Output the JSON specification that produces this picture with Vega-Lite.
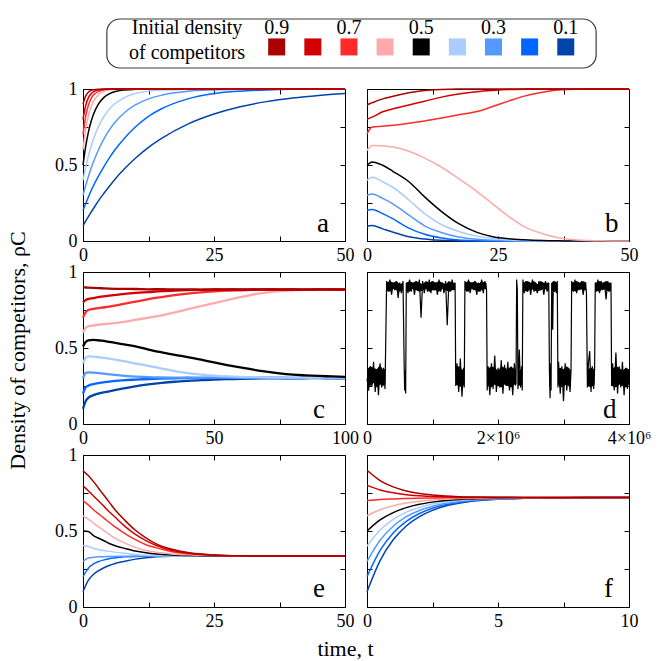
{
"$schema": "https://vega.github.io/schema/vega-lite/v6.json",
"background": "white",
"padding": {"left": 5, "top": 18, "right": 0, "bottom": 0},
"bounds": "flush",
"spacing": 21,
"config": {
  "font": "Liberation Serif",
  "view": {"stroke": "black", "strokeWidth": 1},
  "axis": {"domain": false, "grid": false, "tickSize": -5, "tickColor": "black", "tickWidth": 1, "labelFont": "Liberation Serif", "labelFontSize": 18, "labelColor": "black", "labelPadding": 10, "labelFlush": false, "labelOverlap": false, "titleFont": "Liberation Serif", "titleFontSize": 22, "titleFontWeight": "normal", "titleColor": "black"}
},
"datasets": {
  "L": [
    {"k":"d9","v":0.9,"lab":"0.9"},{"k":"d8","v":0.8,"lab":""},{"k":"d7","v":0.7,"lab":"0.7"},
    {"k":"d6","v":0.6,"lab":""},{"k":"d5","v":0.5,"lab":"0.5"},{"k":"d4","v":0.4,"lab":""},
    {"k":"d3","v":0.3,"lab":"0.3"},{"k":"d2","v":0.2,"lab":""},{"k":"d1","v":0.1,"lab":"0.1"}
  ],
  "A": [
    {"t":0,"d1":0.1,"d2":0.2,"d3":0.3,"d4":0.4,"d5":0.5,"d6":0.6,"d7":0.7,"d8":0.8,"d9":0.9},
    {"t":0.5,"d1":0.13,"d2":0.245,"d3":0.364,"d4":0.483,"d5":0.62,"d6":0.732,"d7":0.818,"d8":0.89,"d9":0.953},
    {"t":1,"d1":0.159,"d2":0.287,"d3":0.421,"d4":0.555,"d5":0.711,"d6":0.82,"d7":0.89,"d8":0.94,"d9":0.978},
    {"t":1.5,"d1":0.187,"d2":0.327,"d3":0.474,"d4":0.617,"d5":0.781,"d6":0.88,"d7":0.933,"d8":0.967,"d9":0.99},
    {"t":2,"d1":0.214,"d2":0.364,"d3":0.521,"d4":0.671,"d5":0.834,"d6":0.919,"d7":0.96,"d8":0.982,"d9":0.995},
    {"t":3,"d1":0.267,"d2":0.43,"d3":0.604,"d4":0.756,"d5":0.904,"d6":0.964,"d7":0.985,"d8":0.995,"d9":0.999},
    {"t":4,"d1":0.314,"d2":0.49,"d3":0.672,"d4":0.819,"d5":0.945,"d6":0.984,"d7":0.995,"d8":0.998,"d9":1},
    {"t":5,"d1":0.359,"d2":0.545,"d3":0.729,"d4":0.866,"d5":0.968,"d6":0.993,"d7":0.998,"d8":1,"d9":1},
    {"t":6,"d1":0.402,"d2":0.595,"d3":0.776,"d4":0.901,"d5":0.982,"d6":0.997,"d7":0.999,"d8":1,"d9":1},
    {"t":8,"d1":0.478,"d2":0.68,"d3":0.847,"d4":0.945,"d5":0.994,"d6":0.999,"d7":1,"d8":1,"d9":1},
    {"t":10,"d1":0.544,"d2":0.75,"d3":0.895,"d4":0.97,"d5":0.998,"d6":1,"d7":1,"d8":1,"d9":1},
    {"t":12.5,"d1":0.616,"d2":0.82,"d3":0.935,"d4":0.986,"d5":1,"d6":1,"d7":1,"d8":1,"d9":1},
    {"t":15,"d1":0.675,"d2":0.87,"d3":0.959,"d4":0.993,"d5":1,"d6":1,"d7":1,"d8":1,"d9":1},
    {"t":20,"d1":0.769,"d2":0.935,"d3":0.985,"d4":0.998,"d5":1,"d6":1,"d7":1,"d8":1,"d9":1},
    {"t":25,"d1":0.835,"d2":0.97,"d3":0.994,"d4":1,"d5":1,"d6":1,"d7":1,"d8":1,"d9":1},
    {"t":30,"d1":0.883,"d2":0.986,"d3":0.998,"d4":1,"d5":1,"d6":1,"d7":1,"d8":1,"d9":1},
    {"t":35,"d1":0.917,"d2":0.994,"d3":1,"d4":1,"d5":1,"d6":1,"d7":1,"d8":1,"d9":1},
    {"t":40,"d1":0.941,"d2":0.998,"d3":1,"d4":1,"d5":1,"d6":1,"d7":1,"d8":1,"d9":1},
    {"t":45,"d1":0.958,"d2":0.999,"d3":1,"d4":1,"d5":1,"d6":1,"d7":1,"d8":1,"d9":1},
    {"t":50,"d1":0.97,"d2":1,"d3":1,"d4":1,"d5":1,"d6":1,"d7":1,"d8":1,"d9":1}
  ],
  "B": [
    {"t":0,"d1":0.098,"d2":0.2,"d3":0.3,"d4":0.4,"d5":0.497,"d6":0.595,"d7":0.705,"d8":0.8,"d9":0.895},
    {"t":0.5,"d1":0.101,"d2":0.205,"d3":0.306,"d4":0.413,"d5":0.513,"d6":0.618,"d7":0.735,"d8":0.808,"d9":0.903},
    {"t":1,"d1":0.102,"d2":0.208,"d3":0.31,"d4":0.42,"d5":0.52,"d6":0.628,"d7":0.75,"d8":0.815,"d9":0.91},
    {"t":3,"d1":0.08,"d2":0.18,"d3":0.28,"d4":0.39,"d5":0.498,"d6":0.627,"d7":0.755,"d8":0.85,"d9":0.935},
    {"t":5,"d1":0.058,"d2":0.145,"d3":0.243,"d4":0.352,"d5":0.457,"d6":0.618,"d7":0.762,"d8":0.87,"d9":0.952},
    {"t":8,"d1":0.028,"d2":0.085,"d3":0.17,"d4":0.27,"d5":0.39,"d6":0.59,"d7":0.775,"d8":0.895,"d9":0.975},
    {"t":11,"d1":0.013,"d2":0.044,"d3":0.1,"d4":0.18,"d5":0.29,"d6":0.545,"d7":0.79,"d8":0.92,"d9":0.99},
    {"t":14,"d1":0.005,"d2":0.021,"d3":0.058,"d4":0.112,"d5":0.2,"d6":0.49,"d7":0.808,"d8":0.945,"d9":0.997},
    {"t":17.5,"d1":0.001,"d2":0.007,"d3":0.026,"d4":0.063,"d5":0.114,"d6":0.41,"d7":0.83,"d8":0.967,"d9":1},
    {"t":21,"d1":0,"d2":0.002,"d3":0.011,"d4":0.032,"d5":0.057,"d6":0.325,"d7":0.852,"d8":0.982,"d9":1},
    {"t":24,"d1":0,"d2":0,"d3":0.005,"d4":0.016,"d5":0.028,"d6":0.243,"d7":0.885,"d8":0.99,"d9":1},
    {"t":27,"d1":0,"d2":0,"d3":0.002,"d4":0.007,"d5":0.015,"d6":0.162,"d7":0.92,"d8":0.996,"d9":1},
    {"t":30,"d1":0,"d2":0,"d3":0,"d4":0.003,"d5":0.008,"d6":0.095,"d7":0.953,"d8":0.999,"d9":1},
    {"t":33.5,"d1":0,"d2":0,"d3":0,"d4":0.001,"d5":0.003,"d6":0.048,"d7":0.978,"d8":1,"d9":1},
    {"t":36.5,"d1":0,"d2":0,"d3":0,"d4":0,"d5":0.001,"d6":0.022,"d7":0.993,"d8":1,"d9":1},
    {"t":40,"d1":0,"d2":0,"d3":0,"d4":0,"d5":0,"d6":0.007,"d7":0.999,"d8":1,"d9":1},
    {"t":45,"d1":0,"d2":0,"d3":0,"d4":0,"d5":0,"d6":0.001,"d7":1,"d8":1,"d9":1},
    {"t":50,"d1":0,"d2":0,"d3":0,"d4":0,"d5":0,"d6":0,"d7":1,"d8":1,"d9":1}
  ],
  "C": [
    {"t":0,"d1":0.1,"d2":0.2,"d3":0.3,"d4":0.4,"d5":0.51,"d6":0.6,"d7":0.7,"d8":0.8,"d9":0.9},
    {"t":1,"d1":0.15,"d2":0.24,"d3":0.335,"d4":0.435,"d5":0.54,"d6":0.632,"d7":0.735,"d8":0.815,"d9":0.898},
    {"t":2,"d1":0.172,"d2":0.252,"d3":0.34,"d4":0.445,"d5":0.55,"d6":0.642,"d7":0.75,"d8":0.822,"d9":0.897},
    {"t":4,"d1":0.19,"d2":0.262,"d3":0.338,"d4":0.443,"d5":0.553,"d6":0.648,"d7":0.757,"d8":0.828,"d9":0.895},
    {"t":7,"d1":0.205,"d2":0.272,"d3":0.333,"d4":0.437,"d5":0.548,"d6":0.655,"d7":0.765,"d8":0.838,"d9":0.893},
    {"t":10,"d1":0.215,"d2":0.279,"d3":0.327,"d4":0.43,"d5":0.54,"d6":0.66,"d7":0.772,"d8":0.845,"d9":0.891},
    {"t":15,"d1":0.232,"d2":0.287,"d3":0.318,"d4":0.415,"d5":0.525,"d6":0.67,"d7":0.788,"d8":0.855,"d9":0.889},
    {"t":20,"d1":0.248,"d2":0.292,"d3":0.312,"d4":0.398,"d5":0.51,"d6":0.685,"d7":0.805,"d8":0.862,"d9":0.888},
    {"t":25,"d1":0.26,"d2":0.296,"d3":0.308,"d4":0.382,"d5":0.49,"d6":0.7,"d7":0.822,"d8":0.868,"d9":0.886},
    {"t":30,"d1":0.27,"d2":0.299,"d3":0.306,"d4":0.365,"d5":0.472,"d6":0.715,"d7":0.835,"d8":0.874,"d9":0.887},
    {"t":35,"d1":0.278,"d2":0.301,"d3":0.305,"d4":0.348,"d5":0.455,"d6":0.735,"d7":0.848,"d8":0.878,"d9":0.885},
    {"t":40,"d1":0.284,"d2":0.302,"d3":0.306,"d4":0.335,"d5":0.44,"d6":0.755,"d7":0.858,"d8":0.881,"d9":0.886},
    {"t":45,"d1":0.289,"d2":0.303,"d3":0.304,"d4":0.325,"d5":0.423,"d6":0.775,"d7":0.866,"d8":0.883,"d9":0.884},
    {"t":50,"d1":0.292,"d2":0.302,"d3":0.305,"d4":0.318,"d5":0.405,"d6":0.795,"d7":0.872,"d8":0.885,"d9":0.885},
    {"t":55,"d1":0.295,"d2":0.304,"d3":0.306,"d4":0.313,"d5":0.388,"d6":0.815,"d7":0.877,"d8":0.884,"d9":0.886},
    {"t":60,"d1":0.297,"d2":0.303,"d3":0.304,"d4":0.31,"d5":0.372,"d6":0.835,"d7":0.88,"d8":0.886,"d9":0.884},
    {"t":65,"d1":0.299,"d2":0.302,"d3":0.305,"d4":0.308,"d5":0.357,"d6":0.852,"d7":0.883,"d8":0.885,"d9":0.885},
    {"t":70,"d1":0.3,"d2":0.304,"d3":0.306,"d4":0.306,"d5":0.344,"d6":0.865,"d7":0.885,"d8":0.884,"d9":0.886},
    {"t":75,"d1":0.301,"d2":0.303,"d3":0.305,"d4":0.305,"d5":0.333,"d6":0.874,"d7":0.884,"d8":0.886,"d9":0.884},
    {"t":80,"d1":0.3,"d2":0.302,"d3":0.304,"d4":0.306,"d5":0.325,"d6":0.88,"d7":0.886,"d8":0.885,"d9":0.885},
    {"t":85,"d1":0.301,"d2":0.303,"d3":0.305,"d4":0.304,"d5":0.32,"d6":0.883,"d7":0.885,"d8":0.884,"d9":0.884},
    {"t":90,"d1":0.302,"d2":0.304,"d3":0.306,"d4":0.305,"d5":0.316,"d6":0.885,"d7":0.884,"d8":0.885,"d9":0.886},
    {"t":95,"d1":0.3,"d2":0.303,"d3":0.305,"d4":0.306,"d5":0.313,"d6":0.884,"d7":0.885,"d8":0.886,"d9":0.885},
    {"t":100,"d1":0.301,"d2":0.302,"d3":0.304,"d4":0.305,"d5":0.31,"d6":0.885,"d7":0.886,"d8":0.885,"d9":0.884}
  ],
  "E": [
    {"t":0,"d1":0.1,"d2":0.2,"d3":0.3,"d4":0.405,"d5":0.5,"d6":0.6,"d7":0.7,"d8":0.797,"d9":0.896},
    {"t":1,"d1":0.175,"d2":0.254,"d3":0.322,"d4":0.398,"d5":0.497,"d6":0.578,"d7":0.672,"d8":0.765,"d9":0.865},
    {"t":2,"d1":0.215,"d2":0.283,"d3":0.327,"d4":0.385,"d5":0.47,"d6":0.552,"d7":0.64,"d8":0.73,"d9":0.825},
    {"t":3,"d1":0.24,"d2":0.299,"d3":0.33,"d4":0.377,"d5":0.452,"d6":0.527,"d7":0.612,"d8":0.697,"d9":0.78},
    {"t":4,"d1":0.258,"d2":0.31,"d3":0.331,"d4":0.371,"d5":0.436,"d6":0.503,"d7":0.585,"d8":0.662,"d9":0.735},
    {"t":5,"d1":0.273,"d2":0.318,"d3":0.332,"d4":0.366,"d5":0.418,"d6":0.478,"d7":0.557,"d8":0.627,"d9":0.69},
    {"t":6,"d1":0.285,"d2":0.323,"d3":0.333,"d4":0.361,"d5":0.405,"d6":0.455,"d7":0.53,"d8":0.595,"d9":0.645},
    {"t":8,"d1":0.301,"d2":0.33,"d3":0.334,"d4":0.353,"d5":0.385,"d6":0.42,"d7":0.483,"d8":0.53,"d9":0.57},
    {"t":10,"d1":0.315,"d2":0.333,"d3":0.335,"d4":0.346,"d5":0.368,"d6":0.392,"d7":0.443,"d8":0.477,"d9":0.505},
    {"t":12,"d1":0.324,"d2":0.334,"d3":0.335,"d4":0.341,"d5":0.357,"d6":0.372,"d7":0.41,"d8":0.437,"d9":0.455},
    {"t":14,"d1":0.33,"d2":0.335,"d3":0.335,"d4":0.338,"d5":0.349,"d6":0.36,"d7":0.389,"d8":0.405,"d9":0.415},
    {"t":17,"d1":0.334,"d2":0.335,"d3":0.335,"d4":0.336,"d5":0.342,"d6":0.349,"d7":0.364,"d8":0.372,"d9":0.38},
    {"t":20,"d1":0.335,"d2":0.335,"d3":0.335,"d4":0.335,"d5":0.339,"d6":0.343,"d7":0.35,"d8":0.355,"d9":0.358},
    {"t":25,"d1":0.335,"d2":0.334,"d3":0.336,"d4":0.335,"d5":0.336,"d6":0.338,"d7":0.34,"d8":0.341,"d9":0.342},
    {"t":30,"d1":0.336,"d2":0.335,"d3":0.334,"d4":0.334,"d5":0.335,"d6":0.336,"d7":0.337,"d8":0.337,"d9":0.337},
    {"t":35,"d1":0.335,"d2":0.336,"d3":0.335,"d4":0.335,"d5":0.334,"d6":0.335,"d7":0.335,"d8":0.335,"d9":0.336},
    {"t":40,"d1":0.334,"d2":0.335,"d3":0.335,"d4":0.336,"d5":0.335,"d6":0.336,"d7":0.335,"d8":0.336,"d9":0.335},
    {"t":45,"d1":0.335,"d2":0.335,"d3":0.334,"d4":0.334,"d5":0.336,"d6":0.335,"d7":0.336,"d8":0.335,"d9":0.336},
    {"t":50,"d1":0.335,"d2":0.334,"d3":0.335,"d4":0.335,"d5":0.334,"d6":0.335,"d7":0.335,"d8":0.336,"d9":0.335}
  ],
  "F": [
    {"t":0,"d1":0.1,"d2":0.2,"d3":0.3,"d4":0.4,"d5":0.5,"d6":0.6,"d7":0.7,"d8":0.8,"d9":0.9},
    {"t":0.5,"d1":0.305,"d2":0.372,"d3":0.439,"d4":0.506,"d5":0.573,"d6":0.64,"d7":0.707,"d8":0.77,"d9":0.832},
    {"t":1,"d1":0.442,"d2":0.487,"d3":0.531,"d4":0.576,"d5":0.621,"d6":0.666,"d7":0.711,"d8":0.751,"d9":0.79},
    {"t":1.5,"d1":0.533,"d2":0.563,"d3":0.594,"d4":0.624,"d5":0.654,"d6":0.684,"d7":0.714,"d8":0.739,"d9":0.763},
    {"t":2,"d1":0.595,"d2":0.615,"d3":0.635,"d4":0.655,"d5":0.676,"d6":0.696,"d7":0.716,"d8":0.732,"d9":0.747},
    {"t":2.5,"d1":0.636,"d2":0.65,"d3":0.663,"d4":0.677,"d5":0.69,"d6":0.704,"d7":0.717,"d8":0.727,"d9":0.737},
    {"t":3,"d1":0.664,"d2":0.673,"d3":0.682,"d4":0.691,"d5":0.7,"d6":0.709,"d7":0.718,"d8":0.725,"d9":0.73},
    {"t":3.5,"d1":0.682,"d2":0.688,"d3":0.694,"d4":0.701,"d5":0.707,"d6":0.713,"d7":0.719,"d8":0.723,"d9":0.726},
    {"t":4,"d1":0.695,"d2":0.699,"d3":0.703,"d4":0.707,"d5":0.711,"d6":0.715,"d7":0.719,"d8":0.722,"d9":0.724},
    {"t":5,"d1":0.709,"d2":0.71,"d3":0.712,"d4":0.714,"d5":0.716,"d6":0.718,"d7":0.72,"d8":0.721,"d9":0.722},
    {"t":6,"d1":0.715,"d2":0.716,"d3":0.717,"d4":0.717,"d5":0.718,"d6":0.719,"d7":0.72,"d8":0.72,"d9":0.721},
    {"t":7,"d1":0.718,"d2":0.718,"d3":0.718,"d4":0.719,"d5":0.719,"d6":0.72,"d7":0.72,"d8":0.72,"d9":0.72},
    {"t":8,"d1":0.719,"d2":0.719,"d3":0.719,"d4":0.72,"d5":0.72,"d6":0.72,"d7":0.72,"d8":0.72,"d9":0.72},
    {"t":10,"d1":0.72,"d2":0.72,"d3":0.72,"d4":0.72,"d5":0.72,"d6":0.72,"d7":0.72,"d8":0.72,"d9":0.72}
  ],
  "DB": [
    {"s":1,"t":0,"lo":0.26,"hi":0.36},{"s":1,"t":0.05,"lo":0.25,"hi":0.38},{"s":1,"t":0.1,"lo":0.27,"hi":0.37},{"s":1,"t":0.15,"lo":0.24,"hi":0.36},{"s":1,"t":0.2,"lo":0.26,"hi":0.39},{"s":1,"t":0.25,"lo":0.25,"hi":0.35},{"s":1,"t":0.28,"lo":0.27,"hi":0.37},
    {"s":2,"t":0.295,"lo":0.88,"hi":0.93},{"s":2,"t":0.35,"lo":0.87,"hi":0.94},{"s":2,"t":0.4,"lo":0.89,"hi":0.93},{"s":2,"t":0.45,"lo":0.88,"hi":0.94},{"s":2,"t":0.5,"lo":0.87,"hi":0.92},{"s":2,"t":0.55,"lo":0.88,"hi":0.93},
    {"s":3,"t":0.565,"lo":0.25,"hi":0.36},{"s":3,"t":0.59,"lo":0.24,"hi":0.34},
    {"s":4,"t":0.6,"lo":0.88,"hi":0.93},{"s":4,"t":0.65,"lo":0.87,"hi":0.94},{"s":4,"t":0.7,"lo":0.89,"hi":0.93},{"s":4,"t":0.75,"lo":0.88,"hi":0.94},{"s":4,"t":0.8,"lo":0.87,"hi":0.93},{"s":4,"t":0.85,"lo":0.88,"hi":0.92},{"s":4,"t":0.9,"lo":0.89,"hi":0.94},{"s":4,"t":0.95,"lo":0.87,"hi":0.93},{"s":4,"t":1.0,"lo":0.88,"hi":0.94},{"s":4,"t":1.05,"lo":0.88,"hi":0.93},{"s":4,"t":1.1,"lo":0.87,"hi":0.94},{"s":4,"t":1.15,"lo":0.89,"hi":0.93},{"s":4,"t":1.2,"lo":0.88,"hi":0.92},{"s":4,"t":1.25,"lo":0.87,"hi":0.94},{"s":4,"t":1.3,"lo":0.88,"hi":0.93},{"s":4,"t":1.345,"lo":0.89,"hi":0.93},
    {"s":5,"t":1.355,"lo":0.26,"hi":0.37},{"s":5,"t":1.4,"lo":0.25,"hi":0.38},{"s":5,"t":1.45,"lo":0.24,"hi":0.36},{"s":5,"t":1.485,"lo":0.26,"hi":0.35},
    {"s":6,"t":1.495,"lo":0.88,"hi":0.93},{"s":6,"t":1.55,"lo":0.87,"hi":0.94},{"s":6,"t":1.6,"lo":0.89,"hi":0.93},{"s":6,"t":1.65,"lo":0.88,"hi":0.94},{"s":6,"t":1.7,"lo":0.87,"hi":0.92},{"s":6,"t":1.75,"lo":0.88,"hi":0.94},{"s":6,"t":1.8,"lo":0.89,"hi":0.93},{"s":6,"t":1.825,"lo":0.88,"hi":0.93},
    {"s":7,"t":1.835,"lo":0.25,"hi":0.36},{"s":7,"t":1.9,"lo":0.24,"hi":0.38},{"s":7,"t":1.95,"lo":0.26,"hi":0.37},{"s":7,"t":2.0,"lo":0.25,"hi":0.35},{"s":7,"t":2.05,"lo":0.24,"hi":0.38},{"s":7,"t":2.1,"lo":0.26,"hi":0.37},{"s":7,"t":2.15,"lo":0.25,"hi":0.36},{"s":7,"t":2.2,"lo":0.24,"hi":0.38},{"s":7,"t":2.25,"lo":0.26,"hi":0.36},{"s":7,"t":2.275,"lo":0.25,"hi":0.35},
    {"s":9,"t":2.305,"lo":0.25,"hi":0.35},{"s":9,"t":2.37,"lo":0.26,"hi":0.36},
    {"s":10,"t":2.38,"lo":0.88,"hi":0.93},{"s":10,"t":2.45,"lo":0.87,"hi":0.94},{"s":10,"t":2.5,"lo":0.89,"hi":0.93},{"s":10,"t":2.55,"lo":0.88,"hi":0.94},{"s":10,"t":2.6,"lo":0.87,"hi":0.92},{"s":10,"t":2.65,"lo":0.88,"hi":0.94},{"s":10,"t":2.7,"lo":0.89,"hi":0.93},{"s":10,"t":2.775,"lo":0.88,"hi":0.93},
    {"s":11,"t":2.785,"lo":0.25,"hi":0.35},{"s":11,"t":2.81,"lo":0.24,"hi":0.36},
    {"s":12,"t":2.82,"lo":0.88,"hi":0.93},{"s":12,"t":2.86,"lo":0.87,"hi":0.94},{"s":12,"t":2.905,"lo":0.88,"hi":0.93},
    {"s":13,"t":2.915,"lo":0.26,"hi":0.36},{"s":13,"t":2.95,"lo":0.24,"hi":0.37},{"s":13,"t":3.0,"lo":0.25,"hi":0.36},{"s":13,"t":3.05,"lo":0.26,"hi":0.38},{"s":13,"t":3.1,"lo":0.24,"hi":0.36},{"s":13,"t":3.115,"lo":0.25,"hi":0.35},
    {"s":14,"t":3.125,"lo":0.88,"hi":0.93},{"s":14,"t":3.2,"lo":0.87,"hi":0.94},{"s":14,"t":3.25,"lo":0.89,"hi":0.93},{"s":14,"t":3.3,"lo":0.88,"hi":0.94},{"s":14,"t":3.35,"lo":0.88,"hi":0.93},
    {"s":15,"t":3.365,"lo":0.25,"hi":0.36},{"s":15,"t":3.42,"lo":0.24,"hi":0.37},{"s":15,"t":3.475,"lo":0.26,"hi":0.36},
    {"s":16,"t":3.485,"lo":0.88,"hi":0.93},{"s":16,"t":3.55,"lo":0.87,"hi":0.94},{"s":16,"t":3.6,"lo":0.89,"hi":0.93},{"s":16,"t":3.65,"lo":0.88,"hi":0.94},{"s":16,"t":3.7,"lo":0.87,"hi":0.93},{"s":16,"t":3.725,"lo":0.88,"hi":0.93},
    {"s":17,"t":3.735,"lo":0.25,"hi":0.36},{"s":17,"t":3.8,"lo":0.24,"hi":0.38},{"s":17,"t":3.85,"lo":0.26,"hi":0.37},{"s":17,"t":3.9,"lo":0.25,"hi":0.35},{"s":17,"t":3.95,"lo":0.24,"hi":0.37},{"s":17,"t":4.0,"lo":0.26,"hi":0.36}
  ],
  "D": [
    {"t":0,"y":0.30},{"t":0.025,"y":0.22},{"t":0.05,"y":0.38},{"t":0.075,"y":0.25},{"t":0.1,"y":0.41},{"t":0.125,"y":0.21},{"t":0.15,"y":0.36},{"t":0.175,"y":0.19},{"t":0.2,"y":0.40},{"t":0.225,"y":0.24},{"t":0.25,"y":0.37},{"t":0.275,"y":0.23},
    {"t":0.3,"y":0.94},{"t":0.325,"y":0.87},{"t":0.35,"y":0.95},{"t":0.375,"y":0.85},{"t":0.4,"y":0.93},{"t":0.425,"y":0.88},{"t":0.45,"y":0.94},{"t":0.475,"y":0.83},{"t":0.5,"y":0.93},{"t":0.525,"y":0.86},{"t":0.55,"y":0.94},
    {"t":0.565,"y":0.45},{"t":0.575,"y":0.22},{"t":0.585,"y":0.35},{"t":0.59,"y":0.2},
    {"t":0.6,"y":0.93},{"t":0.625,"y":0.86},{"t":0.65,"y":0.95},{"t":0.675,"y":0.87},{"t":0.7,"y":0.93},{"t":0.725,"y":0.85},{"t":0.75,"y":0.94},{"t":0.775,"y":0.88},{"t":0.8,"y":0.95},{"t":0.825,"y":0.70},{"t":0.85,"y":0.94},{"t":0.875,"y":0.86},{"t":0.9,"y":0.93},{"t":0.925,"y":0.87},{"t":0.95,"y":0.95},{"t":0.975,"y":0.86},{"t":1.0,"y":0.94},{"t":1.025,"y":0.88},{"t":1.05,"y":0.93},{"t":1.075,"y":0.85},{"t":1.1,"y":0.95},{"t":1.125,"y":0.87},{"t":1.15,"y":0.93},{"t":1.175,"y":0.86},{"t":1.2,"y":0.94},{"t":1.225,"y":0.65},{"t":1.25,"y":0.93},{"t":1.275,"y":0.87},{"t":1.3,"y":0.95},{"t":1.325,"y":0.88},{"t":1.345,"y":0.93},
    {"t":1.355,"y":0.25},{"t":1.375,"y":0.40},{"t":1.4,"y":0.21},{"t":1.425,"y":0.43},{"t":1.45,"y":0.18},{"t":1.475,"y":0.37},{"t":1.485,"y":0.24},
    {"t":1.495,"y":0.94},{"t":1.525,"y":0.87},{"t":1.55,"y":0.95},{"t":1.575,"y":0.86},{"t":1.6,"y":0.93},{"t":1.625,"y":0.88},{"t":1.65,"y":0.94},{"t":1.675,"y":0.85},{"t":1.7,"y":0.93},{"t":1.725,"y":0.87},{"t":1.75,"y":0.95},{"t":1.775,"y":0.86},{"t":1.8,"y":0.94},{"t":1.825,"y":0.88},
    {"t":1.835,"y":0.22},{"t":1.85,"y":0.38},{"t":1.875,"y":0.19},{"t":1.9,"y":0.40},{"t":1.925,"y":0.23},{"t":1.95,"y":0.45},{"t":1.975,"y":0.21},{"t":2.0,"y":0.37},{"t":2.025,"y":0.24},{"t":2.05,"y":0.42},{"t":2.075,"y":0.20},{"t":2.1,"y":0.39},{"t":2.125,"y":0.25},{"t":2.15,"y":0.41},{"t":2.175,"y":0.22},{"t":2.2,"y":0.36},{"t":2.225,"y":0.19},{"t":2.25,"y":0.40},{"t":2.275,"y":0.26},
    {"t":2.285,"y":0.95},{"t":2.295,"y":0.88},
    {"t":2.305,"y":0.23},{"t":2.325,"y":0.49},{"t":2.345,"y":0.24},{"t":2.36,"y":0.38},{"t":2.37,"y":0.22},
    {"t":2.38,"y":0.95},{"t":2.4,"y":0.86},{"t":2.425,"y":0.94},{"t":2.45,"y":0.87},{"t":2.475,"y":0.93},{"t":2.5,"y":0.85},{"t":2.525,"y":0.95},{"t":2.55,"y":0.87},{"t":2.575,"y":0.93},{"t":2.6,"y":0.86},{"t":2.625,"y":0.94},{"t":2.65,"y":0.88},{"t":2.675,"y":0.93},{"t":2.7,"y":0.85},{"t":2.725,"y":0.94},{"t":2.75,"y":0.87},{"t":2.775,"y":0.93},
    {"t":2.785,"y":0.35},{"t":2.795,"y":0.17},{"t":2.805,"y":0.40},{"t":2.81,"y":0.22},
    {"t":2.82,"y":0.93},{"t":2.835,"y":0.62},{"t":2.845,"y":0.94},{"t":2.86,"y":0.87},{"t":2.875,"y":0.93},{"t":2.89,"y":0.86},{"t":2.905,"y":0.94},
    {"t":2.915,"y":0.24},{"t":2.925,"y":0.41},{"t":2.95,"y":0.20},{"t":2.975,"y":0.38},{"t":3.0,"y":0.15},{"t":3.025,"y":0.40},{"t":3.05,"y":0.22},{"t":3.075,"y":0.37},{"t":3.1,"y":0.21},{"t":3.115,"y":0.36},
    {"t":3.125,"y":0.94},{"t":3.15,"y":0.87},{"t":3.175,"y":0.95},{"t":3.2,"y":0.86},{"t":3.225,"y":0.93},{"t":3.25,"y":0.88},{"t":3.275,"y":0.94},{"t":3.3,"y":0.85},{"t":3.325,"y":0.93},{"t":3.35,"y":0.87},
    {"t":3.365,"y":0.24},{"t":3.38,"y":0.40},{"t":3.4,"y":0.48},{"t":3.42,"y":0.21},{"t":3.44,"y":0.38},{"t":3.46,"y":0.23},{"t":3.475,"y":0.36},
    {"t":3.485,"y":0.93},{"t":3.5,"y":0.87},{"t":3.525,"y":0.95},{"t":3.55,"y":0.86},{"t":3.575,"y":0.94},{"t":3.6,"y":0.88},{"t":3.625,"y":0.93},{"t":3.65,"y":0.82},{"t":3.675,"y":0.94},{"t":3.7,"y":0.87},{"t":3.725,"y":0.93},
    {"t":3.735,"y":0.25},{"t":3.75,"y":0.40},{"t":3.775,"y":0.22},{"t":3.8,"y":0.47},{"t":3.825,"y":0.20},{"t":3.85,"y":0.38},{"t":3.875,"y":0.24},{"t":3.9,"y":0.41},{"t":3.925,"y":0.19},{"t":3.95,"y":0.37},{"t":3.975,"y":0.23},{"t":4.0,"y":0.35}
  ]
},
"vconcat": [
  {
    "width": 546, "height": 49,
    "view": {"stroke": null},
    "layer": [
      {"data": {"values": [{}]},
       "mark": {"type": "rect", "fill": "transparent", "stroke": "#3a3a3a", "strokeWidth": 1.2, "cornerRadius": 13},
       "encoding": {
         "x": {"datum": 1.37, "type": "quantitative", "scale": {"domain": [-0.075, 1.436], "reverse": true, "nice": false, "zero": false}, "axis": null},
         "x2": {"datum": 0.016},
         "y": {"datum": 0, "type": "quantitative", "scale": {"domain": [0, 1], "nice": false, "zero": false}, "axis": null},
         "y2": {"datum": 1}}},
      {"data": {"name": "L"},
       "mark": {"type": "square", "size": 289, "opacity": 1},
       "encoding": {
         "x": {"field": "v", "type": "quantitative"},
         "y": {"datum": 0.43, "type": "quantitative"},
         "color": {"field": "k", "type": "nominal", "scale": {"domain": ["d9","d8","d7","d6","d5","d4","d3","d2","d1"], "range": ["#aa0000","#d40000","#ff2a2a","#ffaaaa","#000000","#aaccff","#5599ff","#0066ff","#0044aa"]}, "legend": null}}},
      {"data": {"name": "L"},
       "transform": [{"filter": "datum.lab != ''"}],
       "mark": {"type": "text", "fontSize": 20, "baseline": "middle", "color": "black", "font": "Liberation Serif"},
       "encoding": {
         "x": {"field": "v", "type": "quantitative"},
         "y": {"datum": 0.816, "type": "quantitative"},
         "text": {"field": "lab"}}},
      {"data": {"values": [{}]},
       "mark": {"type": "text", "text": ["Initial density", "of competitors"], "fontSize": 20, "lineHeight": 25, "baseline": "middle", "align": "center", "color": "black", "font": "Liberation Serif"},
       "encoding": {
         "x": {"datum": 1.148, "type": "quantitative"},
         "y": {"datum": 0.816, "type": "quantitative"}}}
    ]
  },
  {
    "columns": 2,
    "spacing": {"row": 31, "column": 22},
    "bounds": "flush",
    "concat": [
      {"width": 262, "height": 152,
       "layer": [
         {"data": {"name": "A"}, "transform": [{"fold": ["d1","d2","d3","d4","d5","d6","d7","d8","d9"], "as": ["k","y"]}],
          "mark": {"type": "line", "interpolate": "monotone", "strokeWidth": 1.5},
          "encoding": {
            "x": {"field": "t", "type": "quantitative", "scale": {"domain": [0, 50], "nice": false, "zero": false}, "axis": {"orient": "bottom", "values": [0, 12.5, 25, 37.5, 50], "labelExpr": "datum.value % 25 == 0 ? '' + datum.value : ''", "title": null}},
            "y": {"field": "y", "type": "quantitative", "scale": {"domain": [0, 1], "nice": false, "zero": false}, "axis": {"orient": "left", "values": [0, 0.25, 0.5, 0.75, 1], "labelExpr": "datum.value % 0.5 == 0 ? '' + datum.value : ''", "labelPadding": 11, "title": null}},
            "color": {"field": "k", "type": "nominal", "scale": {"domain": ["d9","d8","d7","d6","d5","d4","d3","d2","d1"], "range": ["#aa0000","#d40000","#ff2a2a","#ffaaaa","#000000","#aaccff","#5599ff","#0066ff","#0044aa"]}, "legend": null}}},
         {"data": {"values": [{}]},
          "mark": {"type": "text", "text": "a", "align": "left", "baseline": "alphabetic", "dx": -28, "dy": -9, "fontSize": 27, "color": "black", "font": "Liberation Serif"},
          "encoding": {
            "x": {"datum": 50, "type": "quantitative", "scale": {"domain": [0, 50], "nice": false, "zero": false}, "axis": {"orient": "top", "values": [0, 12.5, 25, 37.5, 50], "labels": false, "title": null}},
            "y": {"datum": 0, "type": "quantitative", "scale": {"domain": [0, 1], "nice": false, "zero": false}, "axis": {"orient": "right", "values": [0, 0.25, 0.5, 0.75, 1], "labels": false, "title": null}}}}
       ],
       "resolve": {"axis": {"x": "independent", "y": "independent"}}},
      {"width": 262, "height": 152,
       "layer": [
         {"data": {"name": "B"}, "transform": [{"fold": ["d1","d2","d3","d4","d5","d6","d7","d8","d9"], "as": ["k","y"]}],
          "mark": {"type": "line", "interpolate": "monotone", "strokeWidth": 1.5},
          "encoding": {
            "x": {"field": "t", "type": "quantitative", "scale": {"domain": [0, 50], "nice": false, "zero": false}, "axis": {"orient": "bottom", "values": [0, 12.5, 25, 37.5, 50], "labelExpr": "datum.value % 25 == 0 ? '' + datum.value : ''", "title": null}},
            "y": {"field": "y", "type": "quantitative", "scale": {"domain": [0, 1], "nice": false, "zero": false}, "axis": {"orient": "left", "values": [0, 0.25, 0.5, 0.75, 1], "labels": false, "title": null}},
            "color": {"field": "k", "type": "nominal", "scale": {"domain": ["d9","d8","d7","d6","d5","d4","d3","d2","d1"], "range": ["#aa0000","#d40000","#ff2a2a","#ffaaaa","#000000","#aaccff","#5599ff","#0066ff","#0044aa"]}, "legend": null}}},
         {"data": {"values": [{}]},
          "mark": {"type": "text", "text": "b", "align": "left", "baseline": "alphabetic", "dx": -24, "dy": -9, "fontSize": 27, "color": "black", "font": "Liberation Serif"},
          "encoding": {
            "x": {"datum": 50, "type": "quantitative", "scale": {"domain": [0, 50], "nice": false, "zero": false}, "axis": {"orient": "top", "values": [0, 12.5, 25, 37.5, 50], "labels": false, "title": null}},
            "y": {"datum": 0, "type": "quantitative", "scale": {"domain": [0, 1], "nice": false, "zero": false}, "axis": {"orient": "right", "values": [0, 0.25, 0.5, 0.75, 1], "labels": false, "title": null}}}}
       ],
       "resolve": {"axis": {"x": "independent", "y": "independent"}}},
      {"width": 262, "height": 152,
       "layer": [
         {"data": {"name": "C"}, "transform": [{"fold": ["d1","d2","d3","d4","d5","d6","d7","d8","d9"], "as": ["k","y"]}],
          "mark": {"type": "line", "interpolate": "monotone", "strokeWidth": 2.3},
          "encoding": {
            "x": {"field": "t", "type": "quantitative", "scale": {"domain": [0, 100], "nice": false, "zero": false}, "axis": {"orient": "bottom", "values": [0, 25, 50, 75, 100], "labelExpr": "datum.value % 50 == 0 ? '' + datum.value : ''", "title": null}},
            "y": {"field": "y", "type": "quantitative", "scale": {"domain": [0, 1], "nice": false, "zero": false}, "axis": {"orient": "left", "values": [0, 0.25, 0.5, 0.75, 1], "labelExpr": "datum.value % 0.5 == 0 ? '' + datum.value : ''", "labelPadding": 11, "title": "Density of competitors, ρC", "titleX": -66, "titleY": 78, "titleAngle": -90, "titleAlign": "center", "titleBaseline": "middle"}},
            "color": {"field": "k", "type": "nominal", "scale": {"domain": ["d9","d8","d7","d6","d5","d4","d3","d2","d1"], "range": ["#aa0000","#d40000","#ff2a2a","#ffaaaa","#000000","#aaccff","#5599ff","#0066ff","#0044aa"]}, "legend": null}}},
         {"data": {"values": [{}]},
          "mark": {"type": "text", "text": "c", "align": "left", "baseline": "alphabetic", "dx": -32, "dy": -6, "fontSize": 27, "color": "black", "font": "Liberation Serif"},
          "encoding": {
            "x": {"datum": 100, "type": "quantitative", "scale": {"domain": [0, 100], "nice": false, "zero": false}, "axis": {"orient": "top", "values": [0, 25, 50, 75, 100], "labels": false, "title": null}},
            "y": {"datum": 0, "type": "quantitative", "scale": {"domain": [0, 1], "nice": false, "zero": false}, "axis": {"orient": "right", "values": [0, 0.25, 0.5, 0.75, 1], "labels": false, "title": null}}}}
       ],
       "resolve": {"axis": {"x": "independent", "y": "independent"}}},
      {"width": 262, "height": 152,
       "layer": [
         {"data": {"name": "DB"},
          "mark": {"type": "area", "color": "black", "opacity": 1},
          "encoding": {
            "x": {"field": "t", "type": "quantitative", "scale": {"domain": [0, 4], "nice": false, "zero": false}, "axis": null},
            "y": {"field": "lo", "type": "quantitative", "scale": {"domain": [0, 1], "nice": false, "zero": false}, "axis": null},
            "y2": {"field": "hi"},
            "detail": {"field": "s", "type": "nominal"}}},
         {"data": {"name": "D"},
          "mark": {"type": "line", "strokeWidth": 1.2, "color": "black"},
          "encoding": {
            "x": {"field": "t", "type": "quantitative", "scale": {"domain": [0, 4], "nice": false, "zero": false}, "axis": {"orient": "bottom", "values": [0, 1, 2, 3, 4], "labelExpr": "datum.value == 0 ? '0' : (datum.value % 2 == 0 ? datum.value + '×10⁶' : '')", "title": null}},
            "y": {"field": "y", "type": "quantitative", "scale": {"domain": [0, 1], "nice": false, "zero": false}, "axis": {"orient": "left", "values": [0, 0.25, 0.5, 0.75, 1], "labels": false, "title": null}}}},
         {"data": {"values": [{}]},
          "mark": {"type": "text", "text": "d", "align": "left", "baseline": "alphabetic", "dx": -26, "dy": -6, "fontSize": 27, "color": "black", "font": "Liberation Serif"},
          "encoding": {
            "x": {"datum": 4, "type": "quantitative", "scale": {"domain": [0, 4], "nice": false, "zero": false}, "axis": {"orient": "top", "values": [0, 1, 2, 3, 4], "labels": false, "title": null}},
            "y": {"datum": 0, "type": "quantitative", "scale": {"domain": [0, 1], "nice": false, "zero": false}, "axis": {"orient": "right", "values": [0, 0.25, 0.5, 0.75, 1], "labels": false, "title": null}}}}
       ],
       "resolve": {"axis": {"x": "independent", "y": "independent"}}},
      {"width": 262, "height": 152,
       "layer": [
         {"data": {"name": "E"}, "transform": [{"fold": ["d1","d2","d3","d4","d5","d6","d7","d8","d9"], "as": ["k","y"]}],
          "mark": {"type": "line", "interpolate": "monotone", "strokeWidth": 1.5},
          "encoding": {
            "x": {"field": "t", "type": "quantitative", "scale": {"domain": [0, 50], "nice": false, "zero": false}, "axis": {"orient": "bottom", "values": [0, 12.5, 25, 37.5, 50], "labelExpr": "datum.value % 25 == 0 ? '' + datum.value : ''", "title": "time, t", "titleX": 262, "titleY": 48, "titleAlign": "center", "titleBaseline": "alphabetic", "titleAngle": 0}},
            "y": {"field": "y", "type": "quantitative", "scale": {"domain": [0, 1], "nice": false, "zero": false}, "axis": {"orient": "left", "values": [0, 0.25, 0.5, 0.75, 1], "labelExpr": "datum.value % 0.5 == 0 ? '' + datum.value : ''", "labelPadding": 11, "title": null}},
            "color": {"field": "k", "type": "nominal", "scale": {"domain": ["d9","d8","d7","d6","d5","d4","d3","d2","d1"], "range": ["#aa0000","#d40000","#ff2a2a","#ffaaaa","#000000","#aaccff","#5599ff","#0066ff","#0044aa"]}, "legend": null}}},
         {"data": {"values": [{}]},
          "mark": {"type": "text", "text": "e", "align": "left", "baseline": "alphabetic", "dx": -32, "dy": -10, "fontSize": 27, "color": "black", "font": "Liberation Serif"},
          "encoding": {
            "x": {"datum": 50, "type": "quantitative", "scale": {"domain": [0, 50], "nice": false, "zero": false}, "axis": {"orient": "top", "values": [0, 12.5, 25, 37.5, 50], "labels": false, "title": null}},
            "y": {"datum": 0, "type": "quantitative", "scale": {"domain": [0, 1], "nice": false, "zero": false}, "axis": {"orient": "right", "values": [0, 0.25, 0.5, 0.75, 1], "labels": false, "title": null}}}}
       ],
       "resolve": {"axis": {"x": "independent", "y": "independent"}}},
      {"width": 262, "height": 152,
       "layer": [
         {"data": {"name": "F"}, "transform": [{"fold": ["d1","d2","d3","d4","d5","d6","d7","d8","d9"], "as": ["k","y"]}],
          "mark": {"type": "line", "interpolate": "monotone", "strokeWidth": 1.5},
          "encoding": {
            "x": {"field": "t", "type": "quantitative", "scale": {"domain": [0, 10], "nice": false, "zero": false}, "axis": {"orient": "bottom", "values": [0, 2.5, 5, 7.5, 10], "labelExpr": "datum.value % 5 == 0 ? '' + datum.value : ''", "title": null}},
            "y": {"field": "y", "type": "quantitative", "scale": {"domain": [0, 1], "nice": false, "zero": false}, "axis": {"orient": "left", "values": [0, 0.25, 0.5, 0.75, 1], "labels": false, "title": null}},
            "color": {"field": "k", "type": "nominal", "scale": {"domain": ["d9","d8","d7","d6","d5","d4","d3","d2","d1"], "range": ["#aa0000","#d40000","#ff2a2a","#ffaaaa","#000000","#aaccff","#5599ff","#0066ff","#0044aa"]}, "legend": null}}},
         {"data": {"values": [{}]},
          "mark": {"type": "text", "text": "f", "align": "left", "baseline": "alphabetic", "dx": -25, "dy": -10, "fontSize": 27, "color": "black", "font": "Liberation Serif"},
          "encoding": {
            "x": {"datum": 10, "type": "quantitative", "scale": {"domain": [0, 10], "nice": false, "zero": false}, "axis": {"orient": "top", "values": [0, 2.5, 5, 7.5, 10], "labels": false, "title": null}},
            "y": {"datum": 0, "type": "quantitative", "scale": {"domain": [0, 1], "nice": false, "zero": false}, "axis": {"orient": "right", "values": [0, 0.25, 0.5, 0.75, 1], "labels": false, "title": null}}}}
       ],
       "resolve": {"axis": {"x": "independent", "y": "independent"}}}
    ]
  }
]
}
